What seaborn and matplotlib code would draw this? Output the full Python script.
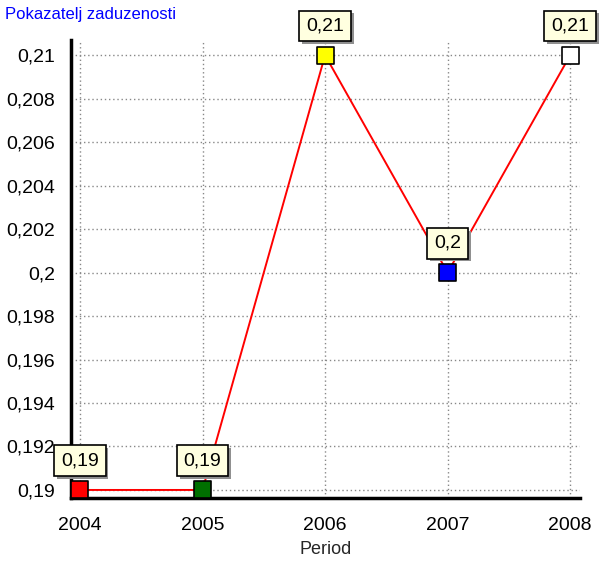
import numpy as np
import pandas as pd
import matplotlib
matplotlib.use("Agg")
import matplotlib.pyplot as plt
import matplotlib.patheffects as pe
from matplotlib.ticker import FuncFormatter, MultipleLocator
import seaborn as sns

# ── Data ──────────────────────────────────────────────────────────────────────
periods = [2004, 2005, 2006, 2007, 2008]
values  = [0.19, 0.19, 0.21, 0.20, 0.21]
labels  = ["0,19", "0,19", "0,21", "0,2", "0,21"]
marker_colors = ["#FF0000", "#007000", "#FFFF00", "#0000FF", "#FFFFFF"]

df = pd.DataFrame({"Period": periods, "Value": values})

sns.set_style("white")
plt.rcParams["font.family"] = ["Liberation Sans", "DejaVu Sans"]

fig = plt.figure(figsize=(5.99, 5.61), dpi=100)
ax = fig.add_axes([71/599, 63/561, 509/599, 458/561])

# grid
ax.set_axisbelow(True)
ax.grid(True, which="major", color="#888888", linestyle=(0, (1, 2)), linewidth=1)

sns.lineplot(data=df, x="Period", y="Value", color="#FF0000", lw=1.4, ax=ax, zorder=3)
sns.scatterplot(data=df, x="Period", y="Value", hue="Period", palette=marker_colors,
                marker="s", s=150, edgecolor="black", linewidth=1.2,
                legend=False, ax=ax, zorder=4)

# value labels with drop shadow
for x, y, lab in zip(periods, values, labels):
    a = ax.annotate(lab, (x, y), xytext=(0, 15), textcoords="offset points",
                    ha="center", va="bottom", fontsize=14, color="black", zorder=6,
                    bbox=dict(boxstyle="square,pad=0.35", fc="#FFFFE0", ec="black", lw=1.2))
    a.get_bbox_patch().set_path_effects([
        pe.SimplePatchShadow(offset=(2, -2), shadow_rgbFace="#909090", alpha=1),
        pe.Normal()])

ax.set_xlim(2004 - 0.073, 2008 + 0.08)
ax.set_ylim(0.19 - 0.00037, 0.21 + 0.0007)

ax.xaxis.set_major_locator(MultipleLocator(1))
ax.xaxis.set_minor_locator(MultipleLocator(0.25))
ax.yaxis.set_major_locator(MultipleLocator(0.002))
ax.yaxis.set_minor_locator(MultipleLocator(0.0005))

ax.xaxis.set_major_formatter(FuncFormatter(lambda v, p: f"{int(round(v))}"))
ax.yaxis.set_major_formatter(FuncFormatter(lambda v, p: f"{round(v, 4):g}".replace(".", ",")))

ax.tick_params(axis="both", which="major", direction="out", length=8, width=1,
               color="#888888", labelsize=14, labelcolor="black")
ax.tick_params(axis="x", which="major", pad=6)
ax.tick_params(axis="both", which="minor", direction="out", length=4, width=1,
               color="#888888")

for s in ["top", "right"]:
    ax.spines[s].set_visible(False)
for s in ["left", "bottom"]:
    ax.spines[s].set_linewidth(2.5)
    ax.spines[s].set_color("black")

ax.set_xlabel("Period", fontsize=13, labelpad=5)
ax.set_ylabel("")

fig.text(5/599, 1 - 15/561, "Pokazatelj zaduzenosti", color="#0000FF",
         fontsize=12, ha="left", va="center")

fig.savefig("out.png", dpi=100)
